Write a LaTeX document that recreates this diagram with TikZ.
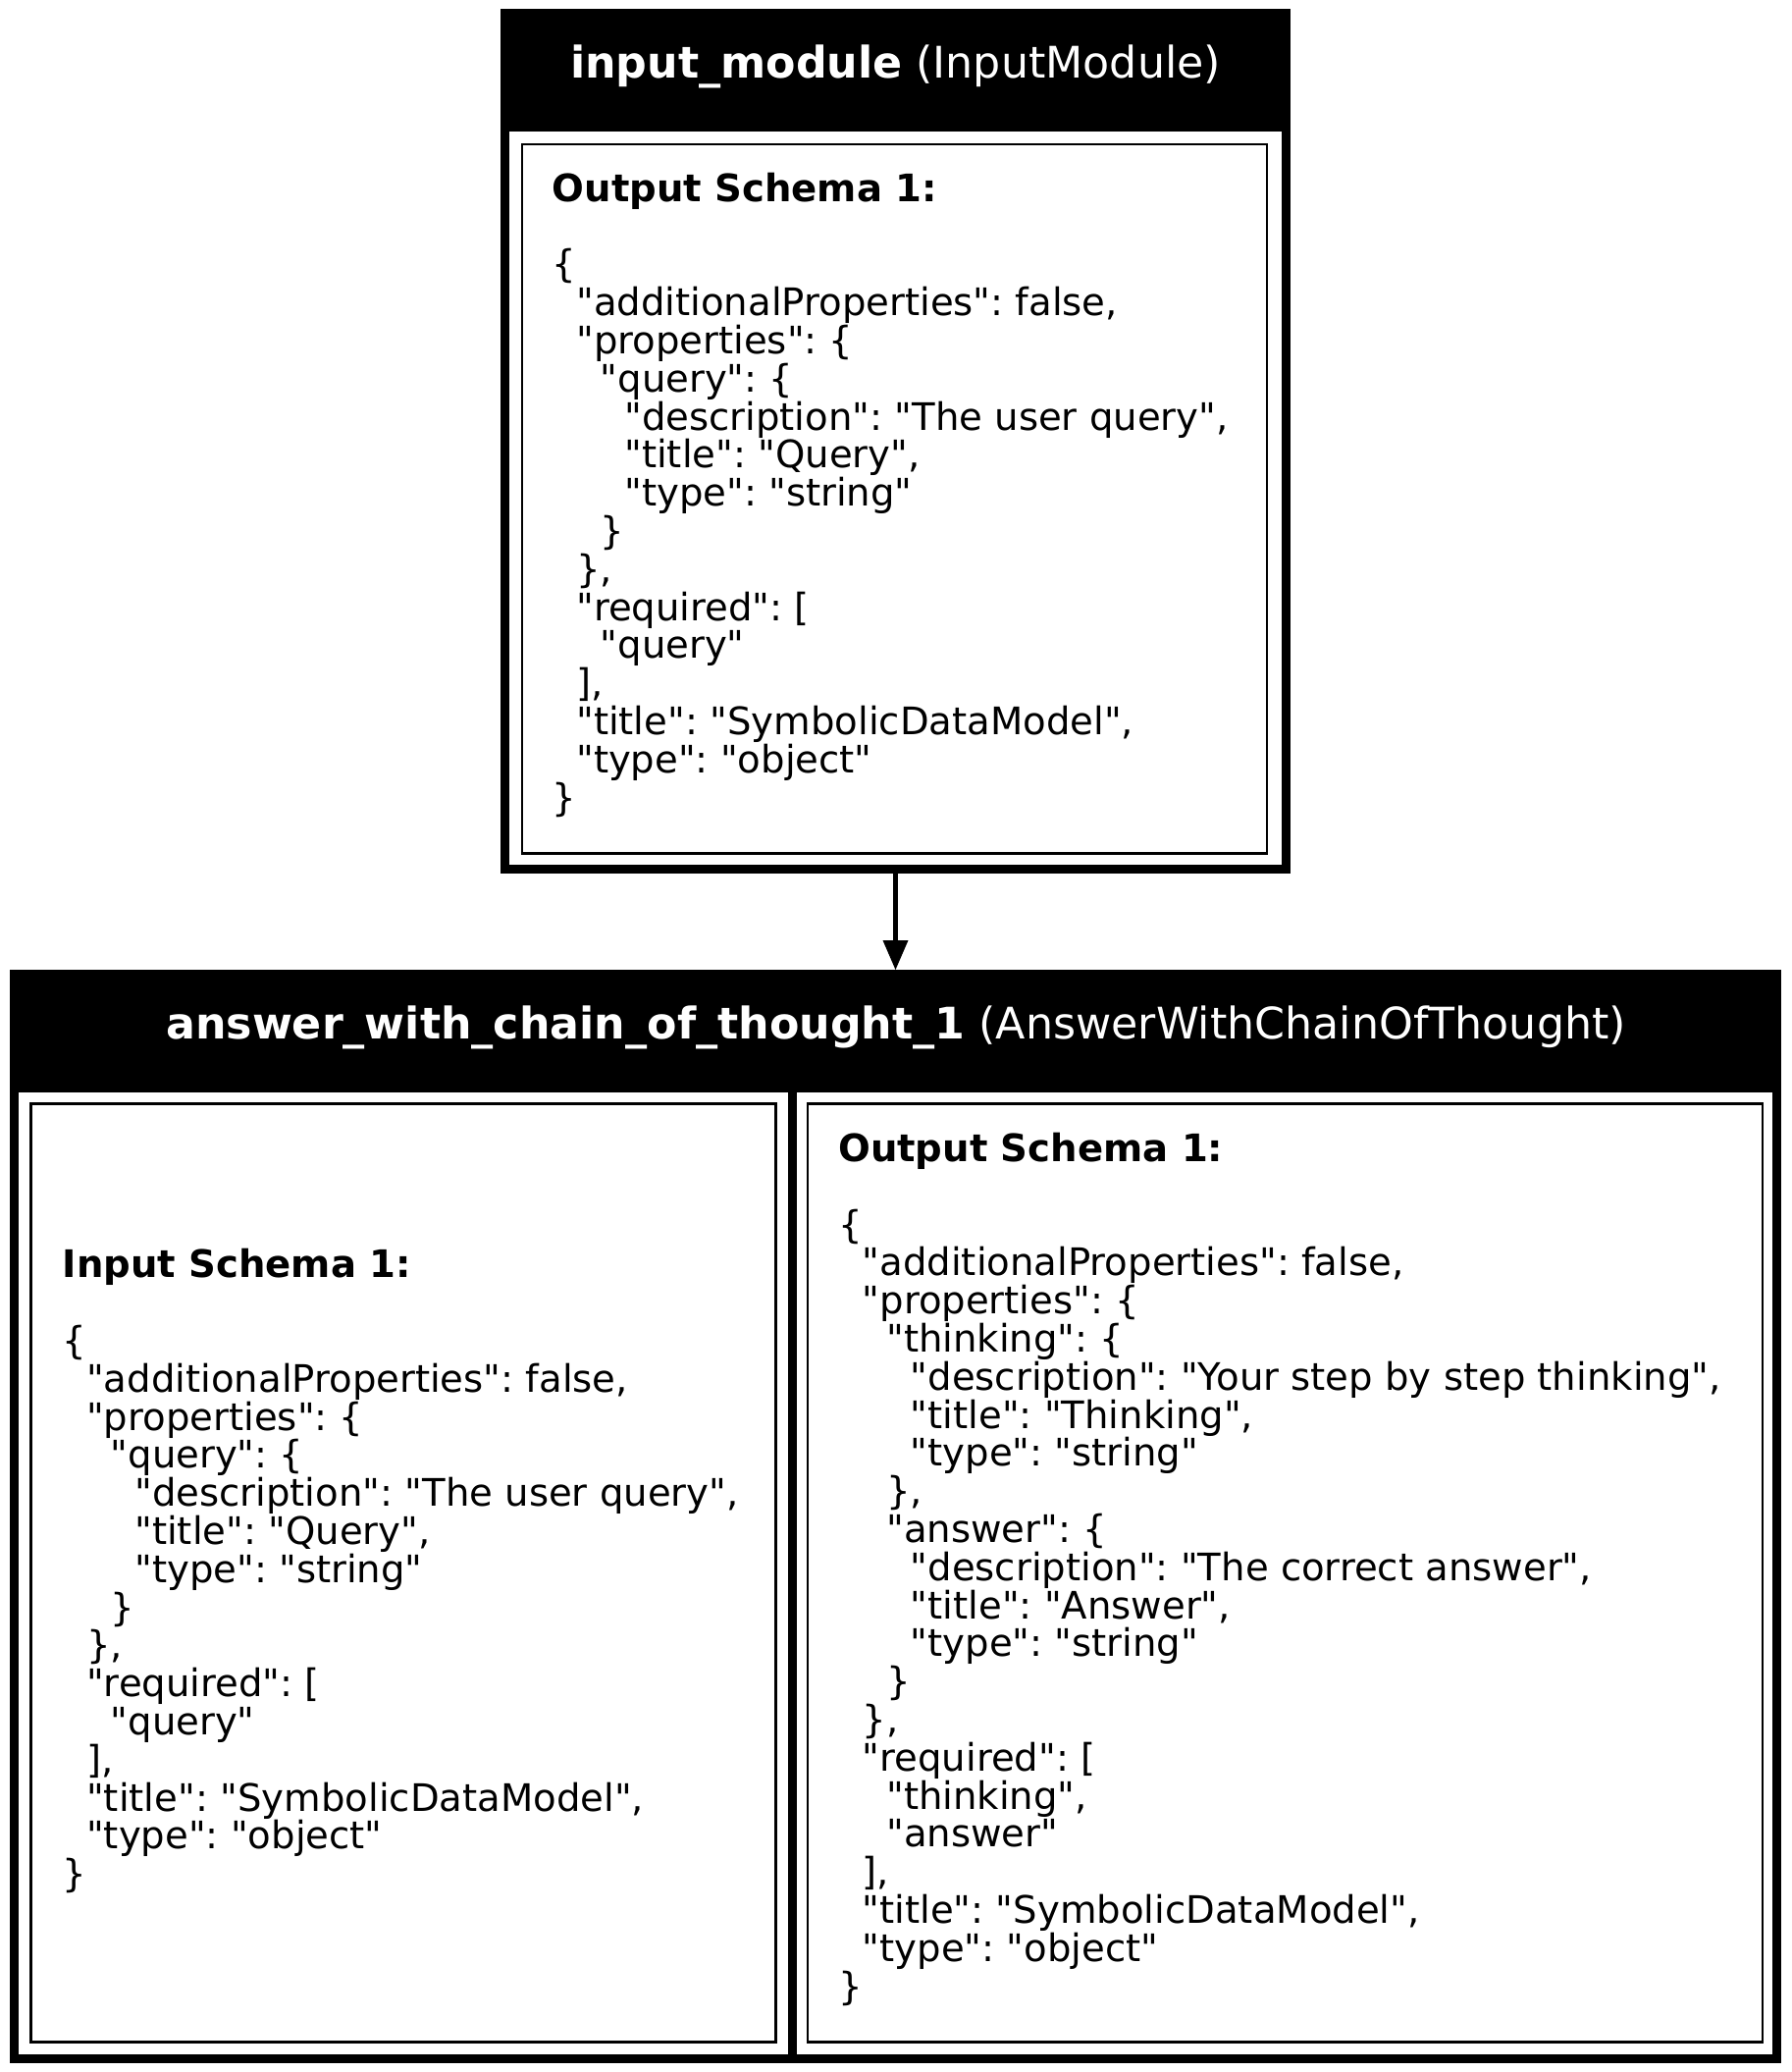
\documentclass[tikz,border=0pt]{standalone}
\usepackage{fontspec}
\newfontfamily\dv{DejaVu Sans}
\usetikzlibrary{arrows.meta}
\newcommand\ind[1]{\hspace*{#1\fontdimen2\font}}
\frenchspacing
\begin{document}
\begin{tikzpicture}[x=1pt,y=-1pt,
  modbox/.style={draw=black, line width=9pt, inner sep=0pt, fill=white},
  cellframe/.style={draw=black, line width=2.5pt},
  hdr/.style={fill=black, draw=none},
  titletext/.style={text=white, font={\dv\frenchspacing\fontsize{44.3}{50}\selectfont}, inner sep=0pt, anchor=base},
  schematext/.style={font={\dv\frenchspacing\fontsize{38.6}{38.8}\selectfont\lineskiplimit=-100pt\lineskip=0pt}, align=left, inner sep=0pt, anchor=north west},
  link/.style={draw=black, line width=5pt, -{Triangle[length=30pt,width=26pt,line width=0pt]}}
  ]
\useasboundingbox (0,0) rectangle (1825,2111);

% ---------- input_module ----------
\node[modbox, minimum width=796pt, minimum height=872pt] (inmod) at (912.5,449.5) {};
\fill[hdr] (510,9) rectangle (1315,134);
\node[titletext] (inmodtitle) at (912.5,80) {{\bfseries input\_module} (InputModule)};
\draw[cellframe] (531.75,147) rectangle (1291,869.5);
\node[schematext] (inmodout) at (562.5,165) {\rule{0pt}{40pt}{\bfseries Output Schema 1:}\\
\mbox{}\\
\{\\
\ind{2}"additionalProperties": false,\\
\ind{2}"properties": \{\\
\ind{4}"query": \{\\
\ind{6}"description": "The user query",\\
\ind{6}"title": "Query",\\
\ind{6}"type": "string"\\
\ind{4}\}\\
\ind{2}\},\\
\ind{2}"required": [\\
\ind{4}"query"\\
\ind{2}],\\
\ind{2}"title": "SymbolicDataModel",\\
\ind{2}"type": "object"\\
\}};

% ---------- answer_with_chain_of_thought_1 ----------
\node[modbox, minimum width=1796.4pt, minimum height=1104.5pt] (cot) at (912.5,1544.75) {};
\fill[hdr] (9.8,988) rectangle (1815.2,1112.5);
\fill[hdr] (803.3,1112) rectangle (811.7,2097);
\node[titletext] (cottitle) at (913,1058) {{\bfseries answer\_with\_chain\_of\_thought\_1} (AnswerWithChainOfThought)};
\draw[cellframe] (31.3,1124.5) rectangle (790.5,2080.5);
\draw[cellframe] (822.8,1124.5) rectangle (1796.2,2080.5);

\node[schematext] (cotin) at (63.5,1261.7) {\rule{0pt}{40pt}{\bfseries Input Schema 1:}\\
\mbox{}\\
\{\\
\ind{2}"additionalProperties": false,\\
\ind{2}"properties": \{\\
\ind{4}"query": \{\\
\ind{6}"description": "The user query",\\
\ind{6}"title": "Query",\\
\ind{6}"type": "string"\\
\ind{4}\}\\
\ind{2}\},\\
\ind{2}"required": [\\
\ind{4}"query"\\
\ind{2}],\\
\ind{2}"title": "SymbolicDataModel",\\
\ind{2}"type": "object"\\
\}};

\node[schematext] (cotout) at (854,1143.3) {\rule{0pt}{40pt}{\bfseries Output Schema 1:}\\
\mbox{}\\
\{\\
\ind{2}"additionalProperties": false,\\
\ind{2}"properties": \{\\
\ind{4}"thinking": \{\\
\ind{6}"description": "Your step by step thinking",\\
\ind{6}"title": "Thinking",\\
\ind{6}"type": "string"\\
\ind{4}\},\\
\ind{4}"answer": \{\\
\ind{6}"description": "The correct answer",\\
\ind{6}"title": "Answer",\\
\ind{6}"type": "string"\\
\ind{4}\}\\
\ind{2}\},\\
\ind{2}"required": [\\
\ind{4}"thinking",\\
\ind{4}"answer"\\
\ind{2}],\\
\ind{2}"title": "SymbolicDataModel",\\
\ind{2}"type": "object"\\
\}};

% ---------- connector ----------
\draw[link] (inmod.south) -- (cot.north);
\end{tikzpicture}
\end{document}
